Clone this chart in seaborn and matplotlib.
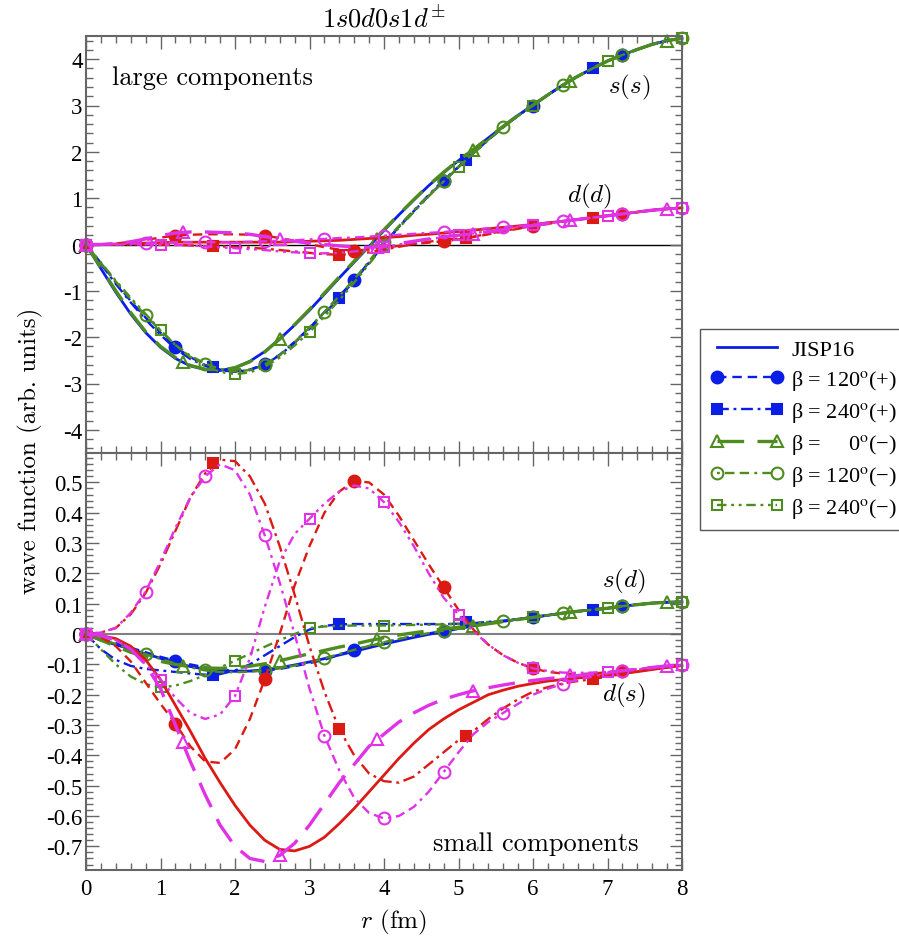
import matplotlib
matplotlib.use("Agg")
import matplotlib.pyplot as plt
from matplotlib.lines import Line2D
from matplotlib.ticker import MultipleLocator, FuncFormatter
import pandas as pd
import seaborn as sns

# ---------------- data ----------------
R = [0.0, 0.2, 0.4, 0.6, 0.8, 1.0, 1.2, 1.4, 1.6, 1.8,
     2.0, 2.2, 2.4, 2.6, 2.8, 3.0, 3.2, 3.4, 3.6, 3.8,
     4.0, 4.2, 4.4, 4.6, 4.8, 5.0, 5.2, 5.4, 5.6, 5.8,
     6.0, 6.2, 6.4, 6.6, 6.8, 7.0, 7.2, 7.4, 7.6, 7.8, 8.0]

# separate marker positions for the beta=240(+) and beta=0(-) curves
R_240P = [0.0, 1.7, 3.4, 5.1, 6.8]
R_0M = [0.0, 1.3, 2.6, 3.9, 5.2, 6.5, 7.8]

# ---- large component s(s) ----
SS_JISP = [0, -0.52, -1.03, -1.50, -1.90, -2.22, -2.46, -2.62, -2.70, -2.72,
           -2.66, -2.52, -2.31, -2.04, -1.74, -1.42, -1.07, -0.72, -0.38, -0.04,
           0.30, 0.64, 0.96, 1.27, 1.55, 1.81, 2.05, 2.30, 2.55, 2.79,
           3.01, 3.23, 3.44, 3.63, 3.80, 3.96, 4.09, 4.21, 4.32, 4.40, 4.45]
SS_120P = [0, -0.40, -0.82, -1.22, -1.58, -1.90, -2.21, -2.43, -2.60, -2.70,
           -2.74, -2.70, -2.58, -2.38, -2.10, -1.80, -1.46, -1.11, -0.77, -0.38,
           0.02, 0.38, 0.72, 1.05, 1.36, 1.67, 1.97, 2.26, 2.53, 2.78,
           3.00, 3.23, 3.44, 3.63, 3.80, 3.96, 4.09, 4.21, 4.32, 4.40, 4.45]
SS_240P = [0, -0.42, -0.85, -1.25, -1.62, -1.95, -2.25, -2.47, -2.62, -2.71,
           -2.75, -2.71, -2.59, -2.39, -2.12, -1.82, -1.49, -1.15, -0.78, -0.40,
           0.00, 0.38, 0.73, 1.07, 1.39, 1.68, 1.97, 2.26, 2.53, 2.78,
           3.00, 3.23, 3.44, 3.63, 3.80, 3.96, 4.09, 4.21, 4.32, 4.40, 4.45]
SS_0M = [0, -0.50, -1.00, -1.47, -1.88, -2.20, -2.44, -2.61, -2.69, -2.71,
         -2.66, -2.53, -2.32, -2.04, -1.73, -1.40, -1.05, -0.70, -0.36, -0.02,
         0.32, 0.65, 0.97, 1.28, 1.56, 1.82, 2.05, 2.30, 2.55, 2.79,
         3.01, 3.23, 3.44, 3.63, 3.80, 3.96, 4.09, 4.21, 4.32, 4.40, 4.45]
SS_120M = [0, -0.40, -0.80, -1.18, -1.53, -1.86, -2.17, -2.40, -2.57, -2.69,
           -2.74, -2.71, -2.59, -2.39, -2.11, -1.79, -1.46, -1.11, -0.75, -0.36,
           0.05, 0.40, 0.74, 1.06, 1.36, 1.67, 1.97, 2.26, 2.53, 2.78,
           3.00, 3.23, 3.44, 3.63, 3.80, 3.96, 4.09, 4.21, 4.32, 4.40, 4.45]
SS_240M = [0, -0.39, -0.78, -1.15, -1.50, -1.85, -2.17, -2.43, -2.62, -2.75,
           -2.80, -2.76, -2.64, -2.44, -2.18, -1.89, -1.55, -1.20, -0.82, -0.42,
           -0.02, 0.36, 0.70, 1.04, 1.36, 1.67, 1.97, 2.26, 2.53, 2.78,
           3.00, 3.23, 3.44, 3.63, 3.80, 3.96, 4.09, 4.21, 4.32, 4.40, 4.45]
SS_240P_MK = [0, -2.64, -1.15, 1.82, 3.80]
SS_0M_MK = [0, -2.54, -2.04, 0.12, 2.05, 3.53, 4.40]

# ---- large component d(d) ----
DD_JISP = [0, 0.00, 0.01, 0.02, 0.03, 0.04, 0.05, 0.05, 0.05, 0.05,
           0.05, 0.05, 0.05, 0.05, 0.06, 0.07, 0.08, 0.09, 0.11, 0.13,
           0.15, 0.17, 0.20, 0.22, 0.25, 0.28, 0.31, 0.34, 0.37, 0.40,
           0.43, 0.47, 0.50, 0.54, 0.58, 0.62, 0.66, 0.70, 0.74, 0.77, 0.79]
DD_120P = [0, 0.00, 0.02, 0.06, 0.10, 0.15, 0.19, 0.21, 0.22, 0.22,
           0.22, 0.21, 0.19, 0.14, 0.08, 0.01, -0.06, -0.11, -0.13, -0.11,
           -0.07, -0.03, 0.01, 0.04, 0.07, 0.11, 0.16, 0.22, 0.28, 0.34,
           0.40, 0.45, 0.50, 0.54, 0.58, 0.62, 0.66, 0.70, 0.74, 0.77, 0.79]
DD_240P = [0, 0.00, 0.00, 0.00, 0.00, -0.01, -0.01, -0.02, -0.03, -0.04,
           -0.05, -0.07, -0.09, -0.12, -0.15, -0.18, -0.21, -0.22, -0.21, -0.17,
           -0.11, -0.05, 0.01, 0.06, 0.10, 0.13, 0.17, 0.23, 0.29, 0.35,
           0.40, 0.45, 0.50, 0.54, 0.58, 0.62, 0.66, 0.70, 0.74, 0.77, 0.79]
DD_0M = [0, 0.00, 0.02, 0.06, 0.12, 0.19, 0.25, 0.27, 0.27, 0.26,
         0.25, 0.22, 0.17, 0.12, 0.07, 0.03, 0.00, -0.03, -0.05, -0.06,
         -0.03, 0.02, 0.07, 0.12, 0.17, 0.20, 0.23, 0.27, 0.31, 0.36,
         0.41, 0.45, 0.50, 0.54, 0.58, 0.62, 0.66, 0.70, 0.74, 0.77, 0.79]
DD_120M = [0, 0.00, 0.01, 0.02, 0.03, 0.04, 0.05, 0.05, 0.05, 0.05,
           0.05, 0.06, 0.07, 0.08, 0.09, 0.11, 0.12, 0.14, 0.15, 0.17,
           0.19, 0.21, 0.23, 0.25, 0.27, 0.30, 0.32, 0.35, 0.37, 0.40,
           0.43, 0.47, 0.50, 0.54, 0.58, 0.62, 0.66, 0.70, 0.74, 0.77, 0.79]
DD_240M = [0, 0.00, 0.00, 0.00, 0.00, 0.00, -0.01, -0.02, -0.04, -0.06,
           -0.08, -0.10, -0.12, -0.15, -0.17, -0.19, -0.19, -0.18, -0.15, -0.11,
           -0.06, 0.00, 0.05, 0.11, 0.16, 0.20, 0.24, 0.29, 0.33, 0.38,
           0.42, 0.46, 0.50, 0.54, 0.58, 0.62, 0.66, 0.70, 0.74, 0.77, 0.79]
DD_240P_MK = [0, -0.035, -0.22, 0.15, 0.58]
DD_0M_MK = [0, 0.27, 0.12, -0.05, 0.23, 0.52, 0.77]

# ---- small component s(d) ----
SD_JISP = [0, -0.020, -0.035, -0.050, -0.065, -0.080, -0.095, -0.107, -0.116, -0.121,
           -0.123, -0.122, -0.118, -0.111, -0.102, -0.092, -0.081, -0.069, -0.057, -0.045,
           -0.033, -0.022, -0.011, -0.001, 0.008, 0.018, 0.027, 0.035, 0.042, 0.049,
           0.055, 0.062, 0.069, 0.075, 0.080, 0.085, 0.092, 0.097, 0.102, 0.105, 0.106]
SD_120P = [0, -0.015, -0.030, -0.045, -0.060, -0.075, -0.088, -0.100, -0.110, -0.117,
           -0.121, -0.122, -0.121, -0.115, -0.106, -0.096, -0.085, -0.068, -0.052, -0.040,
           -0.028, -0.017, -0.007, 0.002, 0.011, 0.020, 0.028, 0.035, 0.042, 0.049,
           0.055, 0.062, 0.069, 0.075, 0.080, 0.085, 0.092, 0.097, 0.102, 0.105, 0.106]
SD_240P = [0, -0.050, -0.085, -0.105, -0.115, -0.120, -0.125, -0.130, -0.134, -0.132,
           -0.120, -0.100, -0.070, -0.040, -0.010, 0.015, 0.027, 0.032, 0.033, 0.033,
           0.033, 0.033, 0.033, 0.033, 0.033, 0.034, 0.036, 0.040, 0.044, 0.049,
           0.055, 0.062, 0.069, 0.075, 0.080, 0.085, 0.092, 0.097, 0.102, 0.105, 0.106]
SD_0M = [0, -0.020, -0.040, -0.060, -0.075, -0.090, -0.100, -0.108, -0.112, -0.113,
         -0.111, -0.106, -0.098, -0.088, -0.076, -0.065, -0.054, -0.043, -0.033, -0.022,
         -0.012, -0.003, 0.004, 0.011, 0.017, 0.022, 0.027, 0.034, 0.041, 0.048,
         0.055, 0.062, 0.069, 0.075, 0.080, 0.085, 0.092, 0.097, 0.102, 0.105, 0.106]
SD_120M = [0, -0.015, -0.033, -0.050, -0.066, -0.082, -0.097, -0.110, -0.120, -0.125,
           -0.126, -0.124, -0.120, -0.113, -0.104, -0.093, -0.080, -0.066, -0.052, -0.039,
           -0.027, -0.016, -0.006, 0.003, 0.011, 0.020, 0.028, 0.035, 0.042, 0.049,
           0.055, 0.062, 0.069, 0.075, 0.080, 0.085, 0.092, 0.097, 0.102, 0.105, 0.106]
SD_240M = [0, -0.050, -0.100, -0.140, -0.165, -0.176, -0.170, -0.155, -0.135, -0.110,
           -0.088, -0.065, -0.042, -0.020, 0.000, 0.020, 0.025, 0.027, 0.028, 0.028,
           0.028, 0.029, 0.030, 0.031, 0.032, 0.033, 0.036, 0.040, 0.044, 0.049,
           0.055, 0.062, 0.069, 0.075, 0.080, 0.085, 0.092, 0.097, 0.102, 0.105, 0.106]
SD_240P_MK = [0, -0.135, 0.032, 0.040, 0.080]
SD_0M_MK = [0, -0.105, -0.088, -0.017, 0.027, 0.074, 0.106]

# ---- small component d(s) ----
DS_JISP = [0, -0.005, -0.015, -0.040, -0.085, -0.150, -0.235, -0.320, -0.410, -0.490,
           -0.565, -0.630, -0.680, -0.710, -0.715, -0.700, -0.670, -0.625, -0.575, -0.520,
           -0.465, -0.410, -0.360, -0.315, -0.280, -0.250, -0.225, -0.200, -0.185, -0.172,
           -0.163, -0.155, -0.150, -0.145, -0.140, -0.135, -0.130, -0.124, -0.117, -0.110, -0.104]
DS_120P = [0, -0.010, -0.040, -0.090, -0.160, -0.230, -0.295, -0.370, -0.420, -0.425,
           -0.380, -0.280, -0.149, 0.000, 0.160, 0.290, 0.400, 0.470, 0.505, 0.500,
           0.460, 0.390, 0.310, 0.230, 0.154, 0.080, 0.015, -0.035, -0.070, -0.095,
           -0.113, -0.125, -0.130, -0.132, -0.130, -0.126, -0.121, -0.117, -0.112, -0.107, -0.102]
DS_240P = [0, 0.005, 0.020, 0.065, 0.135, 0.230, 0.340, 0.450, 0.530, 0.575,
           0.570, 0.520, 0.430, 0.290, 0.130, -0.040, -0.190, -0.314, -0.400, -0.460,
           -0.485, -0.490, -0.470, -0.430, -0.390, -0.350, -0.320, -0.280, -0.245, -0.215,
           -0.190, -0.175, -0.163, -0.155, -0.149, -0.140, -0.132, -0.123, -0.116, -0.110, -0.104]
DS_0M = [0, -0.005, -0.020, -0.050, -0.100, -0.180, -0.300, -0.420, -0.530, -0.630,
         -0.700, -0.740, -0.750, -0.730, -0.690, -0.630, -0.560, -0.490, -0.430, -0.370,
         -0.330, -0.290, -0.260, -0.235, -0.215, -0.200, -0.187, -0.177, -0.168, -0.160,
         -0.153, -0.147, -0.142, -0.137, -0.132, -0.127, -0.121, -0.116, -0.110, -0.105, -0.102]
DS_120M = [0, 0.005, 0.020, 0.070, 0.140, 0.240, 0.350, 0.450, 0.520, 0.560,
           0.540, 0.460, 0.325, 0.170, 0.000, -0.180, -0.335, -0.450, -0.540, -0.590,
           -0.608, -0.600, -0.570, -0.520, -0.455, -0.390, -0.330, -0.290, -0.260, -0.230,
           -0.200, -0.180, -0.165, -0.150, -0.140, -0.130, -0.121, -0.115, -0.110, -0.105, -0.102]
DS_240M = [0, -0.005, -0.020, -0.050, -0.100, -0.150, -0.210, -0.260, -0.280, -0.265,
           -0.204, -0.080, 0.090, 0.240, 0.330, 0.380, 0.430, 0.470, 0.490, 0.480,
           0.435, 0.370, 0.290, 0.200, 0.120, 0.064, 0.010, -0.035, -0.070, -0.095,
           -0.113, -0.122, -0.127, -0.128, -0.127, -0.124, -0.121, -0.117, -0.112, -0.107, -0.102]
DS_240P_MK = [0, 0.565, -0.314, -0.336, -0.149]
DS_0M_MK = [0, -0.357, -0.730, -0.347, -0.187, -0.134, -0.104]

LEGEND_LABELS = ["JISP16",
                 "β = 120$^{\\mathrm{o}}$(+)",
                 "β = 240$^{\\mathrm{o}}$(+)",
                 "β =     0$^{\\mathrm{o}}$(−)",
                 "β = 120$^{\\mathrm{o}}$(−)",
                 "β = 240$^{\\mathrm{o}}$(−)"]

# ---------------- styling ----------------
BLUE = "#0a1ee6"
GREEN = "#4e8c1f"
RED = "#dc1a14"
MAGENTA = "#e032e6"
FRAME = "#666666"

plt.rcParams["font.family"] = ["Liberation Serif", "DejaVu Serif"]
plt.rcParams["mathtext.fontset"] = "stix"

STYLES = {
    "JISP": dict(ls="-", lw=2.0, marker=None, fill=True, sign="+"),
    "120P": dict(ls=(0, (4, 2.5)), lw=1.7, marker="o", ms=8.5, fill=True, every=6, sign="+"),
    "240P": dict(ls=(0, (5, 2, 1.2, 2)), lw=1.7, marker="s", ms=7.5, fill=True, sign="+"),
    "0M": dict(ls=(0, (8, 4)), lw=2.4, marker="^", ms=8.5, fill=False, sign="-"),
    "120M": dict(ls=(0, (1.2, 2.2, 4, 2.2, 4, 2.2)), lw=1.7, marker="o", ms=8.5, fill=False, every=4, sign="-"),
    "240M": dict(ls=(0, (4, 2, 1.2, 2, 1.2, 2)), lw=1.7, marker="s", ms=7.5, fill=False, every=5, sign="-"),
}

COMPONENTS = {
    "ss": dict(JISP=SS_JISP, P120=SS_120P, P240=SS_240P, M0=SS_0M, M120=SS_120M, M240=SS_240M,
               mk240=SS_240P_MK, mk0=SS_0M_MK, cp=BLUE, cm=GREEN),
    "dd": dict(JISP=DD_JISP, P120=DD_120P, P240=DD_240P, M0=DD_0M, M120=DD_120M, M240=DD_240M,
               mk240=DD_240P_MK, mk0=DD_0M_MK, cp=RED, cm=MAGENTA),
    "sd": dict(JISP=SD_JISP, P120=SD_120P, P240=SD_240P, M0=SD_0M, M120=SD_120M, M240=SD_240M,
               mk240=SD_240P_MK, mk0=SD_0M_MK, cp=BLUE, cm=GREEN),
    "ds": dict(JISP=DS_JISP, P120=DS_120P, P240=DS_240P, M0=DS_0M, M120=DS_120M, M240=DS_240M,
               mk240=DS_240P_MK, mk0=DS_0M_MK, cp=RED, cm=MAGENTA),
}
KEYMAP = {"JISP": "JISP", "120P": "P120", "240P": "P240", "0M": "M0", "120M": "M120", "240M": "M240"}


def draw_line(ax, x, y, color, st, markers=True):
    kws = dict(color=color, linestyle=st["ls"], linewidth=st["lw"])
    if markers and st["marker"] is not None and "every" in st:
        kws.update(marker=st["marker"], markersize=st["ms"], markevery=st["every"],
                   markeredgecolor=color, markeredgewidth=1.5,
                   markerfacecolor=color if st["fill"] else "none")
    sns.lineplot(x=x, y=y, ax=ax, estimator=None, sort=False, legend=False,
                 clip_on=False, **kws)


def draw_marks(ax, x, y, color, st):
    sns.lineplot(x=x, y=y, ax=ax, estimator=None, sort=False, legend=False,
                 linestyle="none", marker=st["marker"], markersize=st["ms"],
                 markeredgecolor=color, markeredgewidth=1.5,
                 markerfacecolor=color if st["fill"] else "none",
                 color=color, clip_on=False)


def draw_component(ax, comp):
    c = COMPONENTS[comp]
    for key in ["JISP", "120P", "240P", "0M", "120M", "240M"]:
        st = STYLES[key]
        color = c["cp"] if st["sign"] == "+" else c["cm"]
        draw_line(ax, R, c[KEYMAP[key]], color, st)
        if key == "240P":
            draw_marks(ax, R_240P, c["mk240"], color, st)
        if key == "0M":
            draw_marks(ax, R_0M, c["mk0"], color, st)


fig = plt.figure(figsize=(8.99, 9.45), dpi=100)
L, RT = 86 / 899, 682 / 899
ax1 = fig.add_axes([L, 1 - 454 / 945, RT - L, (454 - 37) / 945])
ax2 = fig.add_axes([L, 1 - 871 / 945, RT - L, (871 - 454) / 945])

ax1.axhline(0, color="black", lw=1.0, zorder=1)
ax2.axhline(0, color="#808080", lw=1.5, zorder=1)

draw_component(ax1, "ss")
draw_component(ax1, "dd")
draw_component(ax2, "sd")
draw_component(ax2, "ds")

fmt = FuncFormatter(lambda v, p: "%g" % (round(v, 2) + 0.0))
for ax in (ax1, ax2):
    ax.set_xlim(0, 8)
    ax.xaxis.set_major_locator(MultipleLocator(1))
    ax.xaxis.set_minor_locator(MultipleLocator(0.2))
    ax.tick_params(which="both", direction="in", top=True, right=True,
                   color=FRAME, width=1.0, labelsize=16.5)
    ax.tick_params(axis="y", pad=2.5)
    ax.tick_params(axis="x", pad=6)
    ax.tick_params(which="major", length=9)
    ax.tick_params(which="minor", length=5)
    for sp in ax.spines.values():
        sp.set_color(FRAME)
        sp.set_linewidth(1.5)
    ax.set_xlabel("")
    ax.set_ylabel("")
    ax.yaxis.set_major_formatter(fmt)
    ax.xaxis.set_major_formatter(fmt)

ax1.set_ylim(-4.5, 4.5)
ax1.yaxis.set_major_locator(MultipleLocator(1))
ax1.yaxis.set_minor_locator(MultipleLocator(0.2))
ax1.tick_params(labelbottom=False)

ax2.set_ylim(-0.778, 0.597)
ax2.yaxis.set_major_locator(MultipleLocator(0.1))
ax2.yaxis.set_minor_locator(MultipleLocator(0.02))

ax1.set_title(r"$1s0d0s1d^{\pm}$", fontsize=19, math_fontfamily="cm", pad=7)

CM = dict(family="cmr10", fontsize=19)
ax1.text(0.35, 3.46, "large components", va="baseline", ha="left", **CM)
ax2.text(4.66, -0.711, "small components", va="baseline", ha="left", **CM)
ax1.text(7.0, 3.29, r"$s(s)$", va="baseline", ha="left", fontsize=18, math_fontfamily="cm")
ax1.text(6.45, 0.92, r"$d(d)$", va="baseline", ha="left", fontsize=18, math_fontfamily="cm")
ax2.text(6.93, 0.158, r"$s(d)$", va="baseline", ha="left", fontsize=18, math_fontfamily="cm")
ax2.text(6.92, -0.218, r"$d(s)$", va="baseline", ha="left", fontsize=18, math_fontfamily="cm")

fig.text(30 / 899, 1 - 451 / 945, "wave function (arb. units)", rotation=90,
         ha="center", va="center", family="cmr10", fontsize=18)
fig.text(394 / 899, 1 - 922 / 945, r"$r$ (fm)", ha="center", va="center",
         math_fontfamily="cm", family="cmr10", fontsize=18)

# legend
handles = []
for key in ["JISP", "120P", "240P", "0M", "120M", "240M"]:
    st = STYLES[key]
    color = BLUE if st["sign"] == "+" else GREEN
    if st["marker"] is None:
        handles.append(Line2D([], [], color=color, ls=st["ls"], lw=st["lw"]))
    else:
        handles.append(Line2D([], [], color=color, ls=st["ls"], lw=st["lw"],
                              marker=st["marker"], markersize=st["ms"],
                              markeredgecolor=color, markeredgewidth=1.5,
                              markerfacecolor=color if st["fill"] else "none"))
leg = fig.legend(handles, LEGEND_LABELS, loc="upper left",
                 bbox_to_anchor=(700 / 899, 1 - 330 / 945), borderaxespad=0,
                 prop={"family": "Liberation Serif", "size": 16}, numpoints=2,
                 handlelength=3.3, handletextpad=0.35, labelspacing=0.36,
                 borderpad=0.45, fancybox=False, framealpha=1, edgecolor="#555555")
leg.get_frame().set_linewidth(1.0)

fig.savefig("out.png", dpi=100)
